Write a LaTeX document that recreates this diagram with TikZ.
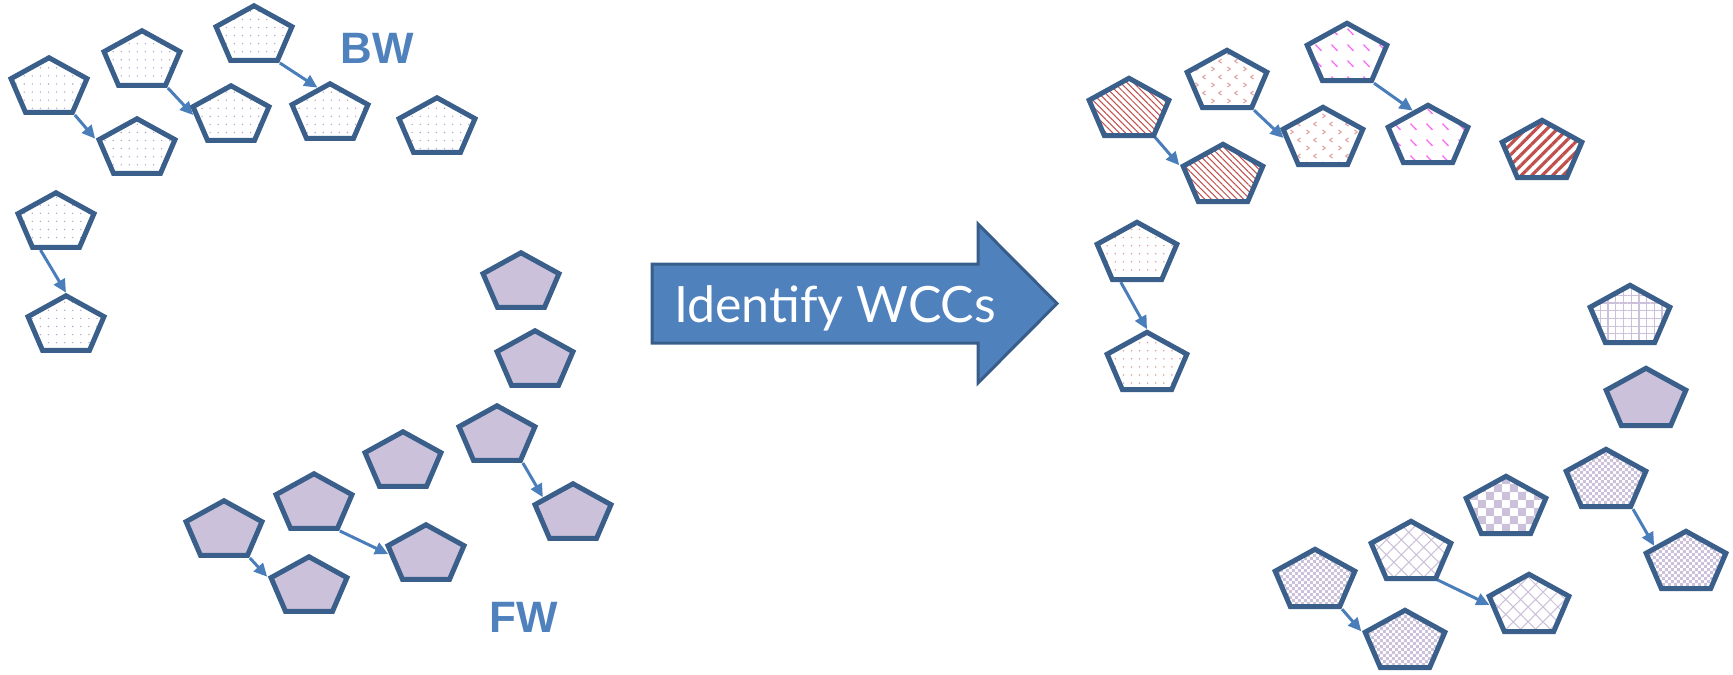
\documentclass[tikz,border=0pt]{standalone}
\usepackage{fontspec}
\newfontfamily\labelfont{Liberation Sans}
\newfontfamily\arrowfont{Lato}
\usetikzlibrary{arrows.meta,shapes.geometric,patterns,patterns.meta,calc,backgrounds}

\definecolor{pentline}{RGB}{58,95,139}
\definecolor{lav}{RGB}{204,193,218}
\definecolor{lavdot}{RGB}{180,165,202}
\definecolor{linkblue}{RGB}{74,126,187}
\definecolor{accblue}{RGB}{79,129,189}
\definecolor{accdark}{RGB}{56,93,138}
\definecolor{wccred}{RGB}{192,80,77}
\definecolor{wccpink}{RGB}{226,160,160}
\definecolor{wccmag}{RGB}{250,110,250}

\pgfdeclarepatternformonly{bigchecker}{\pgfpointorigin}{\pgfpoint{9pt}{9pt}}{\pgfpoint{9pt}{9pt}}{
  \pgfpathrectangle{\pgfpointorigin}{\pgfpoint{4.6pt}{4.6pt}}
  \pgfpathrectangle{\pgfpoint{4.5pt}{4.5pt}}{\pgfpoint{4.6pt}{4.6pt}}
  \pgfusepath{fill}}
\pgfdeclarepatternformonly{finechecker}{\pgfpointorigin}{\pgfpoint{3.6pt}{3.6pt}}{\pgfpoint{3.6pt}{3.6pt}}{
  \pgfpathrectangle{\pgfpointorigin}{\pgfpoint{1.85pt}{1.85pt}}
  \pgfpathrectangle{\pgfpoint{1.8pt}{1.8pt}}{\pgfpoint{1.85pt}{1.85pt}}
  \pgfusepath{fill}}
\pgfdeclarepatternformonly{dashdiag}{\pgfpointorigin}{\pgfpoint{9pt}{9pt}}{\pgfpoint{9pt}{9pt}}{
  \pgfsetlinewidth{0.8pt}
  \pgfpathmoveto{\pgfpoint{2pt}{7pt}}
  \pgfpathlineto{\pgfpoint{5.5pt}{3.5pt}}
  \pgfusepath{stroke}}
\pgfdeclarepatternformonly{divots}{\pgfpointorigin}{\pgfpoint{9pt}{9pt}}{\pgfpoint{9pt}{9pt}}{
  \pgfsetlinewidth{0.6pt}
  \pgfpathmoveto{\pgfpoint{2.6pt}{8pt}}
  \pgfpathlineto{\pgfpoint{1pt}{6.8pt}}
  \pgfpathlineto{\pgfpoint{2.6pt}{5.6pt}}
  \pgfpathmoveto{\pgfpoint{6pt}{3.5pt}}
  \pgfpathlineto{\pgfpoint{7.6pt}{2.3pt}}
  \pgfpathlineto{\pgfpoint{6pt}{1.1pt}}
  \pgfusepath{stroke}}

\begin{document}
\begin{tikzpicture}[x=0.02cm,y=-0.02cm,>={Triangle[length=7.5pt,width=7pt]}]
  \tikzstyle{pent}=[regular polygon,regular polygon sides=5,draw=pentline,line width=0.1cm,inner sep=0pt,xscale=1.32]
  \tikzstyle{lpent}=[pent,minimum size=1.21cm]
  \tikzstyle{rpent}=[pent,minimum size=1.27cm]
  \tikzstyle{bw}=[lpent,pattern={Dots[distance=4.6pt,radius=0.45pt]},pattern color=lavdot]
  \tikzstyle{fw}=[lpent,fill=lav]
  \tikzstyle{redlines}=[rpent,pattern={Lines[angle=-45,distance=2.6pt,line width=0.6pt]},pattern color=wccred]
  \tikzstyle{redbold}=[rpent,pattern={Lines[angle=45,distance=4.2pt,line width=1.8pt]},pattern color=wccred]
  \tikzstyle{reddivot}=[rpent,pattern=divots,pattern color=wccpink]
  \tikzstyle{reddots}=[rpent,pattern={Dots[distance=4.6pt,radius=0.5pt]},pattern color=wccpink]
  \tikzstyle{magdash}=[rpent,pattern=dashdiag,pattern color=wccmag]
  \tikzstyle{lavgrid}=[rpent,pattern={Hatch[angle=0,distance=4.4pt,line width=0.7pt]},pattern color=lav]
  \tikzstyle{lavfill}=[rpent,fill=lav]
  \tikzstyle{lavcheck}=[rpent,pattern=finechecker,pattern color=lav]
  \tikzstyle{lavbig}=[rpent,pattern=bigchecker,pattern color=lav]
  \tikzstyle{lavtrellis}=[rpent,pattern={Hatch[angle=45,distance=6pt,line width=0.6pt]},pattern color=lav]
  \tikzstyle{link}=[->,color=linkblue,line width=1.7pt]

  \useasboundingbox (0,0) rectangle (1733,674);

  \node[bw] (a1) at (49,88) {};
  \node[bw] (a2) at (142,61) {};
  \node[bw] (a3) at (254,36) {};
  \node[bw] (a4) at (137,149) {};
  \node[bw] (a5) at (231,116) {};
  \node[bw] (a6) at (330,114) {};
  \node[bw] (a7) at (437,128) {};
  \node[bw] (a8) at (56,223) {};
  \node[bw] (a9) at (66,326) {};
  \node[text=accblue,font=\labelfont\bfseries\fontsize{25}{30}\selectfont] (bwlabel) at (377,48) {BW};

  \node[fw] (b1) at (521,283) {};
  \node[fw] (b2) at (535,361) {};
  \node[fw] (b3) at (497,436) {};
  \node[fw] (b4) at (403,462) {};
  \node[fw] (b5) at (314,504) {};
  \node[fw] (b6) at (224,531) {};
  \node[fw] (b7) at (309,587) {};
  \node[fw] (b8) at (426,555) {};
  \node[fw] (b9) at (573,514) {};
  \node[text=accblue,font=\labelfont\bfseries\fontsize{25}{30}\selectfont] (fwlabel) at (524,617) {FW};

  \draw[draw=accdark,fill=accblue,line width=1.7pt] (652,264) -- (978,264) -- (978,224) -- (1057,303.5)
    -- (978,383) -- (978,343) -- (652,343) -- cycle;
  \node[text=white,font=\arrowfont\fontsize{28.5}{34}\selectfont,anchor=base] (wcc) at (835,322) {Identify WCCs};

  \node[redlines] (c1) at (1129,110) {};
  \node[reddivot] (c2) at (1227,82) {};
  \node[magdash] (c3) at (1347,55) {};
  \node[redlines] (c4) at (1223,176) {};
  \node[reddivot] (c5) at (1323,139) {};
  \node[magdash] (c6) at (1428,137) {};
  \node[redbold] (c7) at (1542,152) {};
  \node[reddots] (c8) at (1137,254) {};
  \node[reddots] (c9) at (1147,364) {};

  \node[lavgrid] (d1) at (1630,317) {};
  \node[lavfill] (d2) at (1646,400) {};
  \node[lavcheck] (d3) at (1606,481) {};
  \node[lavbig] (d4) at (1506,508) {};
  \node[lavtrellis] (d5) at (1411,553) {};
  \node[lavcheck] (d6) at (1315,581) {};
  \node[lavcheck] (d7) at (1405,642) {};
  \node[lavtrellis] (d8) at (1529,606) {};
  \node[lavcheck] (d9) at (1686,563) {};

  \begin{pgfonlayer}{background}
    \path[link] (a1.corner 4) edge (a4.corner 2)
                (a2.corner 4) edge ($(a5.corner 2)!0.25!(a5.corner 3)$)
                (a3.corner 4) edge ($(a6.corner 2)!0.7!(a6.corner 1)$)
                ($(a8.corner 3)!0.2!(a8.corner 4)$) edge (a9.corner 1)
                (b6.corner 4) edge (b7.corner 2)
                (b5.corner 4) edge ($(b8.corner 2)!0.25!(b8.corner 3)$)
                (b3.corner 4) edge ($(b9.corner 2)!0.28!(b9.corner 1)$);
    \path[link] (c1.corner 4) edge (c4.corner 2)
                (c2.corner 4) edge ($(c5.corner 2)!0.25!(c5.corner 3)$)
                (c3.corner 4) edge ($(c6.corner 2)!0.65!(c6.corner 1)$)
                ($(c8.corner 3)!0.2!(c8.corner 4)$) edge (c9.corner 1)
                (d6.corner 4) edge (d7.corner 2)
                (d5.corner 4) edge ($(d8.corner 2)!0.25!(d8.corner 3)$)
                (d3.corner 4) edge ($(d9.corner 2)!0.27!(d9.corner 1)$);
  \end{pgfonlayer}
\end{tikzpicture}
\end{document}
